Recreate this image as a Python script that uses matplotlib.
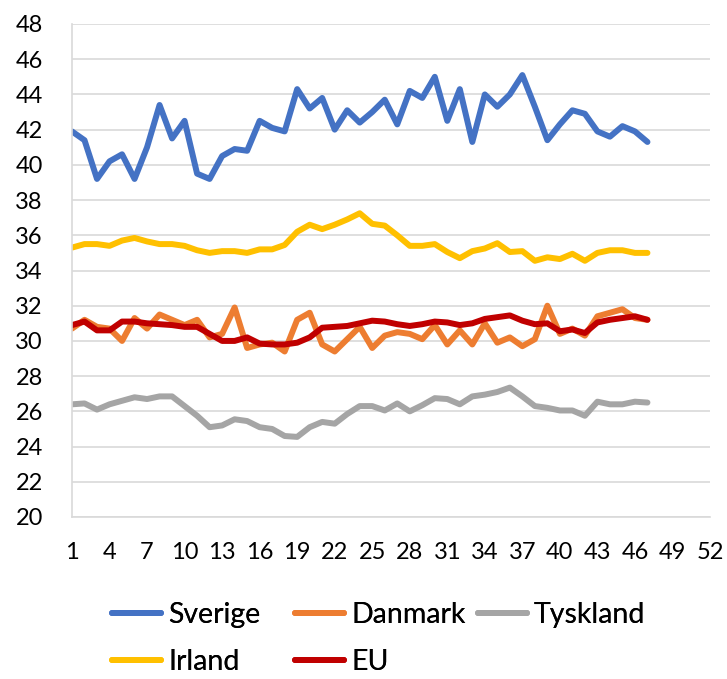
import matplotlib
matplotlib.use("Agg")
import matplotlib.pyplot as plt

weeks = list(range(1, 48))

sverige = [41.9, 41.4, 39.2, 40.2, 40.6, 39.2, 41.0, 43.4, 41.5, 42.5,
           39.5, 39.2, 40.5, 40.9, 40.8, 42.5, 42.1, 41.9, 44.3, 43.2,
           43.8, 42.0, 43.1, 42.4, 43.0, 43.7, 42.3, 44.2, 43.8, 45.0,
           42.5, 44.3, 41.3, 44.0, 43.3, 44.0, 45.1, 43.3, 41.4, 42.3,
           43.1, 42.9, 41.9, 41.6, 42.2, 41.9, 41.3]
danmark = [30.7, 31.2, 30.8, 30.7, 30.0, 31.3, 30.7, 31.5, 31.2, 30.9,
           31.2, 30.2, 30.4, 31.9, 29.6, 29.8, 29.9, 29.4, 31.2, 31.6,
           29.8, 29.4, 30.1, 30.8, 29.6, 30.3, 30.5, 30.4, 30.1, 30.9,
           29.8, 30.6, 29.8, 31.0, 29.9, 30.2, 29.7, 30.1, 32.0, 30.4,
           30.7, 30.3, 31.4, 31.6, 31.8, 31.3, 31.2]
tyskland = [26.4, 26.45, 26.1, 26.4, 26.6, 26.8, 26.7, 26.85, 26.85, 26.3,
            25.75, 25.1, 25.2, 25.55, 25.45, 25.1, 25.0, 24.6, 24.55, 25.1,
            25.4, 25.3, 25.85, 26.3, 26.3, 26.05, 26.45, 26.0, 26.35, 26.75,
            26.7, 26.4, 26.85, 26.95, 27.1, 27.35, 26.85, 26.3, 26.2, 26.05,
            26.05, 25.75, 26.55, 26.4, 26.4, 26.55, 26.5]
irland = [35.3, 35.5, 35.5, 35.4, 35.7, 35.85, 35.65, 35.5, 35.5, 35.4,
          35.15, 35.0, 35.1, 35.1, 35.0, 35.2, 35.2, 35.45, 36.2, 36.6,
          36.35, 36.6, 36.9, 37.25, 36.65, 36.55, 36.0, 35.4, 35.4, 35.5,
          35.05, 34.7, 35.1, 35.25, 35.55, 35.05, 35.1, 34.55, 34.75, 34.65,
          34.95, 34.55, 35.0, 35.15, 35.15, 35.0, 35.0]
eu = [30.9, 31.1, 30.6, 30.6, 31.1, 31.1, 31.0, 30.95, 30.9, 30.8,
      30.8, 30.4, 30.0, 30.0, 30.2, 29.85, 29.8, 29.8, 29.9, 30.2,
      30.75, 30.8, 30.85, 31.0, 31.15, 31.1, 30.95, 30.85, 30.95, 31.1,
      31.05, 30.9, 31.0, 31.25, 31.35, 31.45, 31.15, 30.95, 31.0, 30.55,
      30.65, 30.45, 31.05, 31.2, 31.3, 31.4, 31.2]

series = [
    ("Sverige", sverige, "#4472C4"),
    ("Danmark", danmark, "#ED7D31"),
    ("Tyskland", tyskland, "#A5A5A5"),
    ("Irland", irland, "#FFC000"),
    ("EU", eu, "#C00000"),
]

x_ticks = list(range(1, 53, 3))
y_ticks = list(range(20, 49, 2))

plt.rcParams["font.family"] = ["Lato", "DejaVu Sans"]

fig = plt.figure(figsize=(7.27, 6.79), dpi=100)
ax = fig.add_axes([72 / 727, 1 - 517 / 679, (710 - 72) / 727, (517 - 24) / 679])

lines = {}
for name, values, color in series:
    (line,) = ax.plot(weeks, values, color=color, lw=4.3, label=name,
                      solid_joinstyle="round", solid_capstyle="round")
    lines[name] = line

ax.set_xlim(1, 52)
ax.set_ylim(20, 48)
ax.set_xticks(x_ticks)
ax.set_yticks(y_ticks)
ax.tick_params(axis="both", length=0, labelsize=17, colors="black")
ax.tick_params(axis="x", pad=18)
ax.tick_params(axis="y", pad=21)
ax.grid(axis="y", color="#D9D9D9", lw=1.2)
ax.set_axisbelow(True)
for side in ("top", "right"):
    ax.spines[side].set_visible(False)
ax.spines["left"].set_color("#D9D9D9")
ax.spines["left"].set_linewidth(1.2)
ax.spines["bottom"].set_color("#D9D9D9")
ax.spines["bottom"].set_linewidth(1.2)

# Excel-style legend: fixed column positions, two rows
legend_top = 1 - 602 / 679
columns = [
    (["Sverige", "Irland"], 112 / 727),
    (["Danmark", "EU"], 295 / 727),
    (["Tyskland"], 478 / 727),
]
for names, x0 in columns:
    leg = fig.legend(handles=[lines[n] for n in names], loc="upper left",
                     bbox_to_anchor=(x0, legend_top), frameon=False, fontsize=20.5,
                     handlelength=1.72, handletextpad=0.25, borderpad=0,
                     borderaxespad=0, labelspacing=0.72)
    fig.add_artist(leg)

fig.savefig("out.png", dpi=100)
